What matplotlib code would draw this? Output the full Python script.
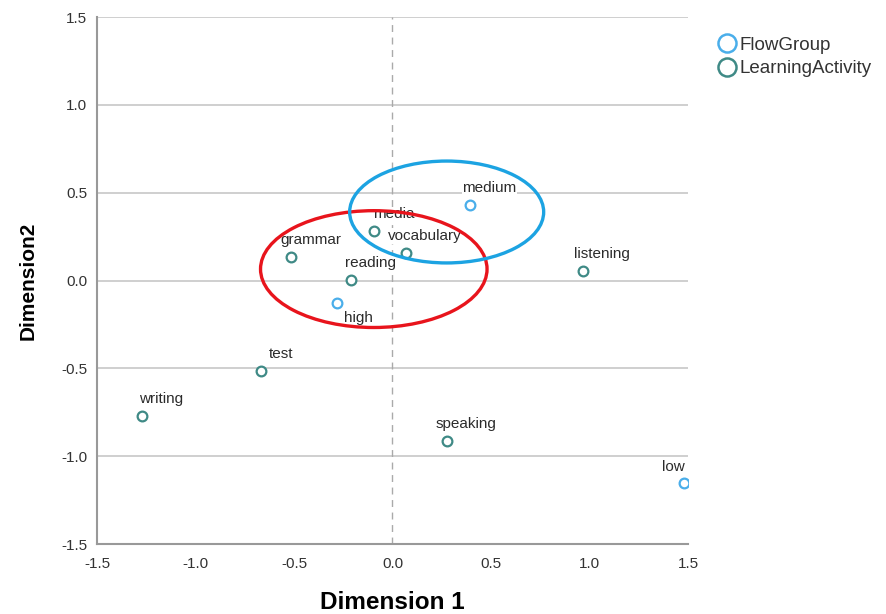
import matplotlib
matplotlib.use('Agg')
import matplotlib.pyplot as plt
from matplotlib.patches import Ellipse
from matplotlib.lines import Line2D

plt.rcParams['font.family'] = ['Liberation Sans', 'DejaVu Sans']

# category coordinates (dimension 1, dimension 2)
flow_labels = ['medium', 'high', 'low']
flow_dim1 = [0.394, -0.280, 1.481]
flow_dim2 = [0.430, -0.126, -1.154]

activity_labels = ['media', 'vocabulary', 'grammar', 'reading', 'listening',
                   'test', 'writing', 'speaking']
activity_dim1 = [-0.094, 0.067, -0.515, -0.212, 0.965, -0.666, -1.273, 0.275]
activity_dim2 = [0.282, 0.157, 0.134, 0.003, 0.054, -0.515, -0.771, -0.913]

ticks = [-1.5, -1.0, -0.5, 0.0, 0.5, 1.0, 1.5]

flow_color = '#4aaeea'
activity_color = '#3f8a86'

fig = plt.figure(figsize=(8.87, 6.14), dpi=100)
ax = fig.add_axes([0.1094, 0.114, 0.6662, 0.8583])

ax.set_xlim(-1.5, 1.5)
ax.set_ylim(-1.5, 1.5)
ax.set_xticks(ticks)
ax.set_yticks(ticks)
ax.set_xticklabels([f'{t:.1f}' for t in ticks])
ax.set_yticklabels([f'{t:.1f}' for t in ticks])
ax.tick_params(length=0, labelsize=11, colors='#333333', pad=7)
ax.tick_params(axis='x', pad=9)

for s in ['top', 'right']:
    ax.spines[s].set_visible(False)
for s in ['left', 'bottom']:
    ax.spines[s].set_color('#999999')
    ax.spines[s].set_linewidth(1.5)

ax.yaxis.grid(True, color='#cccccc', linewidth=1.3)
ax.set_axisbelow(True)
ax.axvline(0, color='#aaaaaa', linestyle=(0, (5, 4)), linewidth=1, zorder=1)

ax.set_xlabel('Dimension 1', fontsize=17.5, fontweight='bold', labelpad=15)
ax.set_ylabel('Dimension2', fontsize=15, fontweight='bold', labelpad=17)

ax.plot(flow_dim1, flow_dim2, 'o', ms=7, mfc='white', mec=flow_color,
        mew=1.6, zorder=4)
ax.plot(activity_dim1, activity_dim2, 'o', ms=7, mfc='white', mec=activity_color,
        mew=1.6, zorder=4)

# label offsets in points; a couple of labels sit elsewhere to stay inside the plot
offsets = {'low': (-8, 12), 'high': (15, -11)}
for names, xs, ys in [(flow_labels, flow_dim1, flow_dim2),
                      (activity_labels, activity_dim1, activity_dim2)]:
    for name, x, y in zip(names, xs, ys):
        dx, dy = offsets.get(name, (14, 12))
        ax.annotate(name, (x, y), xytext=(dx, dy), textcoords='offset points',
                    ha='center', va='center', fontsize=11, color='#2b2b2b',
                    bbox=dict(boxstyle='square,pad=0.05', fc='white', ec='none'),
                    zorder=3)

# highlighted clusters
ax.add_patch(Ellipse((-0.095, 0.065), 1.15, 0.665, fill=False,
                     edgecolor='#e8141c', linewidth=2.4, zorder=5))
ax.add_patch(Ellipse((0.275, 0.39), 0.985, 0.58, fill=False,
                     edgecolor='#1ca3e2', linewidth=2.4, zorder=5))

handles = [Line2D([], [], marker='o', linestyle='', ms=13, mfc='white',
                  mec=flow_color, mew=1.8, label='FlowGroup'),
           Line2D([], [], marker='o', linestyle='', ms=13, mfc='white',
                  mec=activity_color, mew=1.8, label='LearningActivity')]
fig.legend(handles=handles, loc='upper left', bbox_to_anchor=(0.797, 0.956),
           frameon=False, fontsize=13.5, handletextpad=0.15, labelspacing=0.35,
           borderpad=0, handlelength=1.1, labelcolor='#333333')

fig.savefig('out.png', dpi=100)
